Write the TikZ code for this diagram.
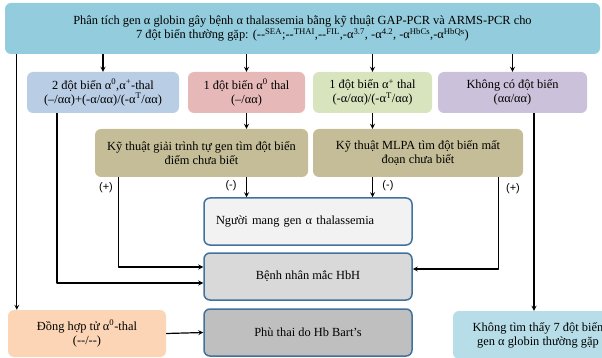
\documentclass[tikz,border=0pt]{standalone}
\usepackage{fontspec}
\setmainfont{Liberation Serif}
\setsansfont{Liberation Sans}
\definecolor{topblue}{RGB}{147,205,221}
\definecolor{paleblue}{RGB}{183,222,232}
\definecolor{boxblue}{RGB}{185,205,229}
\definecolor{boxpink}{RGB}{230,185,184}
\definecolor{boxgreen}{RGB}{215,228,189}
\definecolor{boxlilac}{RGB}{204,193,218}
\definecolor{boxtan}{RGB}{196,189,151}
\definecolor{boxpeach}{RGB}{251,213,181}
\definecolor{edgeblue}{RGB}{65,113,156}
\begin{document}
\begin{tikzpicture}[x=1pt, y=-1pt, font=\fontsize{12.4}{14}\selectfont, line join=round, >=stealth,
  box/.style={rounded corners=6pt, align=center, inner sep=2pt},
  result/.style={box, draw=edgeblue, line width=1.5pt, minimum width=208pt, minimum height=47pt},
  sign/.style={font=\sffamily\fontsize{11}{13}\selectfont},
  link/.style={->, line width=1.2pt}]
\useasboundingbox (0,0) rectangle (602,358);
\clip (0,0) rectangle (602,358);
% test row
\node[box, fill=topblue, minimum width=595pt, minimum height=51pt] (scan) at (302.5,28.5)
  {Phân tích gen α globin gây bệnh α thalassemia bằng kỹ thuật GAP-PCR và ARMS-PCR cho\\
   7 đột biến thường gặp: (-{}-\textsuperscript{SEA};-{}-\textsuperscript{THAI},-{}-\textsuperscript{FIL},-α\textsuperscript{3.7}, -α\textsuperscript{4.2}, -α\textsuperscript{HbCs},-α\textsuperscript{HbQs})};
% genotype row
\node[box, fill=boxblue, minimum width=152pt, minimum height=41pt] (two) at (103,92.5)
  {2 đột biến α\textsuperscript{0},α\textsuperscript{+}-thal\\(--/αα)+(-α/αα)/(-α\textsuperscript{T}/αα)};
\node[box, fill=boxpink, minimum width=117pt, minimum height=41pt] (zero) at (246.5,92.5)
  {1 đột biến α\textsuperscript{0} thal\\(--/αα)};
\node[box, fill=boxgreen, minimum width=119pt, minimum height=41pt] (plus) at (372.5,92.5)
  {1 đột biến α\textsuperscript{+} thal\\(-α/αα)/(-α\textsuperscript{T}/αα)};
\node[box, fill=boxlilac, minimum width=149pt, minimum height=41pt] (normal) at (512.5,92.5)
  {Không có đột biến\\(αα/αα)};
% follow-up techniques
\node[box, fill=boxtan, minimum width=213pt, minimum height=48pt] (seq) at (201.5,153)
  {Kỹ thuật giải trình tự gen tìm đột biến\\điểm chưa biết};
\node[box, fill=boxtan, minimum width=210pt, minimum height=48pt] (mlpa) at (418,153)
  {Kỹ thuật MLPA tìm đột biến mất\\đoạn chưa biết};
% outcomes
\node[result, fill=black!5, text width=184pt, align=left] (carrier) at (308,221.5)
  {Người mang gen α thalassemia};
\node[result, fill=black!15] (hbh) at (308,276.5) {Bệnh nhân mắc HbH};
\node[result, fill=black!25] (bart) at (308,332.5) {Phù thai do Hb Bart’s};
\node[box, fill=boxpeach, minimum width=158pt, minimum height=47pt] (homo) at (87,333.5)
  {Đồng hợp tử α\textsuperscript{0}-thal\\(-{}-/-{}-)};
\node[box, fill=paleblue, minimum width=170pt, minimum height=48pt] (none) at (538,335)
  {Không tìm thấy 7 đột biến\\gen α globin thường gặp};
\coordinate (homotop) at ([xshift=9pt]homo.north west);
\coordinate (twoout) at ([xshift=-46pt]two.south);
\coordinate (seqout) at ([xshift=24pt]seq.south west);
\coordinate (mlpaout) at ([xshift=-25pt]mlpa.south east);
\draw[link] (homotop |- scan.south) -- (homotop);
\draw[link] (two.north |- scan.south) -- (two.north);
\draw[link] (zero.north |- scan.south) -- (zero.north);
\draw[link] (plus.north |- scan.south) -- (plus.north);
\draw[link] (normal.north |- scan.south) -- (normal.north);
\draw[link] (zero.south) -- (zero.south |- seq.north);
\draw[link] (plus.south) -- (plus.south |- mlpa.north);
\draw[link] (zero.south |- seq.south) -- (zero.south |- carrier.north)
  node[sign, pos=0.4, left=6pt] {(-)};
\draw[link] (plus.south |- mlpa.south) -- (plus.south |- carrier.north)
  node[sign, pos=0.4, right=6pt] {(-)};
\draw[link] (seqout) -- node[sign, pos=0.12, left=2pt] {(+)} (seqout |- 0,267) -- ([yshift=9.5pt]hbh.west);
\draw[link] (twoout) -- (twoout |- 0,283) -- ([yshift=-6.5pt]hbh.west);
\draw[link] (mlpaout) -- node[sign, pos=0.12, right=4pt] {(+)} (mlpaout |- 0,269) -- ([yshift=7.5pt]hbh.east);
\draw[link] ([xshift=21.5pt]normal.south) -- ([xshift=21.5pt]normal.south |- none.north);
\draw[link] (homo.east) -- (bart.west);
\end{tikzpicture}
\end{document}
